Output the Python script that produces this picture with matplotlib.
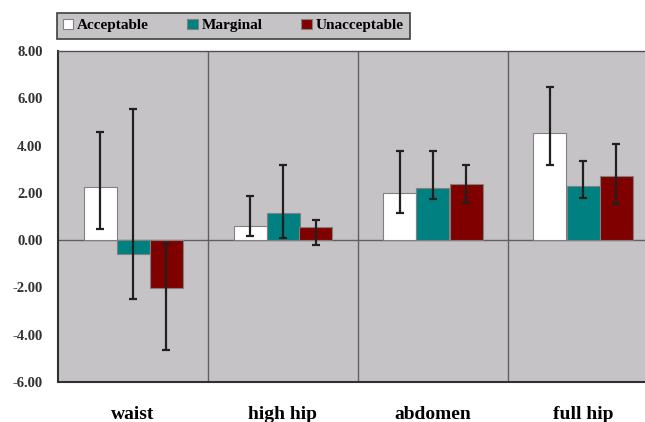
import matplotlib
matplotlib.use("Agg")
import matplotlib.pyplot as plt
import numpy as np

categories = ["waist", "high hip", "abdomen", "full hip"]
series = ["Acceptable", "Marginal", "Unacceptable"]
colors = ["#FFFFFF", "#008080", "#800000"]

acceptable = [2.24, 0.59, 2.00, 4.55]
marginal = [-0.59, 1.14, 2.22, 2.30]
unacceptable = [-2.03, 0.55, 2.39, 2.73]

acc_hi = [4.56, 1.86, 3.79, 6.49]
acc_lo = [0.46, 0.17, 1.16, 3.19]
mar_hi = [5.53, 3.16, 3.79, 3.36]
mar_lo = [-2.49, 0.08, 1.76, 1.80]
una_hi = [-0.17, 0.84, 3.19, 4.08]
una_lo = [-4.64, -0.21, 1.59, 1.54]

yticks = [8, 6, 4, 2, 0, -2, -4, -6]

plt.rcParams['font.family'] = ['Liberation Serif', 'DejaVu Serif']

fig = plt.figure(figsize=(6.45, 4.22), dpi=100)
ax = fig.add_axes([58/645, 1-382/422, 600/645, 331/422])
ax.set_facecolor("#C6C3C6")

x = np.arange(len(categories))
w = 0.22
vals = [acceptable, marginal, unacceptable]
his = [acc_hi, mar_hi, una_hi]
los = [acc_lo, mar_lo, una_lo]
for i, (v, hi, lo) in enumerate(zip(vals, his, los)):
    v = np.array(v); hi = np.array(hi); lo = np.array(lo)
    pos = x + (i - 1) * w
    ax.bar(pos, v, w, color=colors[i], edgecolor="#808080", linewidth=0.8,
           label=series[i], zorder=3)
    ax.errorbar(pos, v, yerr=[v - lo, hi - v], fmt="none", ecolor="#202020",
                elinewidth=1.6, capsize=3, capthick=1.6, zorder=4)

ax.set_xlim(-0.5, 3.5)
ax.set_ylim(-6, 8)
ax.axhline(0, color="#606060", linewidth=1, zorder=2)
for b in [0.5, 1.5, 2.5]:
    ax.axvline(b, color="#606060", linewidth=1, zorder=1)

ax.set_yticks(yticks)
ax.set_yticklabels([f"{t:.2f}" for t in yticks], fontweight="bold", fontsize=10.5,
                   color="#303030")
ax.tick_params(axis="y", length=0, pad=11)
ax.set_xticks(x)
ax.set_xticklabels(categories, fontweight="bold", fontsize=14)
ax.tick_params(axis="x", length=0, pad=17)

for s in ["left", "bottom"]:
    ax.spines[s].set_color("#303030")
    ax.spines[s].set_linewidth(1.5)
ax.spines["top"].set_color("#505050")
ax.spines["top"].set_linewidth(1)
ax.spines["right"].set_visible(False)

leg = fig.legend(loc="upper left", bbox_to_anchor=(49/645, 1-5/422), ncol=3,
                 frameon=True, fancybox=False, prop={"weight": "bold", "size": 11},
                 handlelength=0.7, handleheight=0.7, handletextpad=0.25,
                 columnspacing=2.5, borderpad=0.4)
leg.get_frame().set_facecolor("#C6C3C6")
leg.get_frame().set_edgecolor("#404040")
leg.get_frame().set_linewidth(1.2)
leg.get_frame().set_alpha(1)

fig.savefig("out.png", dpi=100)
